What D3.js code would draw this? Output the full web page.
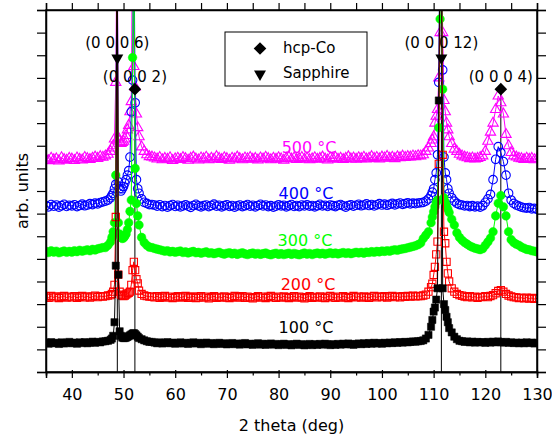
<!DOCTYPE html>
<html>
<head>
<meta charset="utf-8">
<script src="https://cdn.jsdelivr.net/npm/d3@7/dist/d3.min.js"></script>
<style>
  body { margin: 0; background: #fff; }
  svg { font-family: "DejaVu Sans", Verdana, sans-serif; }
</style>
</head>
<body>
<div id="chart"></div>
<script>
// 2 theta grid (deg), finer around the peaks
const twoTheta = [
  35, 35.5, 36, 36.5, 37, 37.5, 38, 38.5, 39, 39.5,
  40, 40.5, 41, 41.5, 42, 42.5, 43, 43.5, 44, 44.5,
  45, 45.5, 46,
  46.5, 47, 47.5, 47.75, 48, 48.25, 48.5, 48.75, 49, 49.25,
  49.5, 49.75, 50, 50.25, 50.5, 50.75, 51, 51.25, 51.5, 51.75,
  52, 52.25, 52.5, 52.75, 53, 53.5, 54, 54.5, 55,
  55.5, 56, 56.5, 57, 57.5, 58, 58.5, 59, 59.5, 60,
  60.5, 61, 61.5, 62, 62.5, 63, 63.5, 64, 64.5, 65,
  65.5, 66, 66.5, 67, 67.5, 68, 68.5, 69, 69.5, 70,
  70.5, 71, 71.5, 72, 72.5, 73, 73.5, 74, 74.5, 75,
  75.5, 76, 76.5, 77, 77.5, 78, 78.5, 79, 79.5, 80,
  80.5, 81, 81.5, 82, 82.5, 83, 83.5, 84, 84.5, 85,
  85.5, 86, 86.5, 87, 87.5, 88, 88.5, 89, 89.5, 90,
  90.5, 91, 91.5, 92, 92.5, 93, 93.5, 94, 94.5, 95,
  95.5, 96, 96.5, 97, 97.5, 98, 98.5, 99, 99.5, 100,
  100.5, 101, 101.5, 102, 102.5, 103, 103.5, 104, 104.5, 105,
  105.5, 106, 106.5, 107,
  107.5, 108, 108.5, 109, 109.5, 109.75, 110, 110.25, 110.5, 110.75,
  111, 111.25, 111.5, 111.75, 112, 112.25, 112.5, 112.75, 113, 113.5,
  114, 114.5, 115,
  115.5, 116, 116.5, 117, 117.5, 118, 118.5, 119,
  119.5, 120, 120.5, 121, 121.5, 122, 122.5, 123, 123.5, 124, 124.5, 125, 125.5, 126, 126.5,
  127, 127.5, 128, 128.5, 129, 129.5, 130
];

// intensities (arb. units, stacked), values above 16 run off the top
const int500 = [
  9.40, 9.34, 9.45, 9.38, 9.42, 9.33, 9.47, 9.39, 9.36, 9.44,
  9.41, 9.35, 9.46, 9.40, 9.37, 9.48, 9.43, 9.39, 9.45, 9.50,
  9.44, 9.52, 9.49,
  9.55, 9.62, 9.75, 9.9, 10.0, 10.3, 12.8, 20, 10.35, 10.2,
  10.1, 10.15, 10.2, 10.3, 10.45, 10.7, 10.9, 11.5, 11.95, 20,
  13.5, 12.6, 11.4, 10.8, 10.4, 9.95, 9.75, 9.6, 9.52,
  9.50, 9.46, 9.41, 9.48, 9.38, 9.44, 9.40, 9.47, 9.35, 9.42,
  9.45, 9.39, 9.48, 9.43, 9.36, 9.44, 9.50, 9.41, 9.37, 9.46,
  9.42, 9.49, 9.38, 9.45, 9.40, 9.52, 9.44, 9.39, 9.47, 9.43,
  9.36, 9.45, 9.41, 9.50, 9.43, 9.38, 9.46, 9.42, 9.48, 9.40,
  9.44, 9.37, 9.46, 9.41, 9.49, 9.43, 9.38, 9.45, 9.40, 9.47,
  9.42, 9.36, 9.44, 9.49, 9.41, 9.46, 9.39, 9.43, 9.48, 9.40,
  9.45, 9.38, 9.42, 9.47, 9.40, 9.44, 9.50, 9.41, 9.37, 9.46,
  9.43, 9.48, 9.40, 9.45, 9.39, 9.44, 9.51, 9.42, 9.46, 9.40,
  9.47, 9.43, 9.49, 9.41, 9.45, 9.52, 9.44, 9.48, 9.42, 9.50,
  9.46, 9.53, 9.45, 9.49, 9.43, 9.51, 9.47, 9.54, 9.48, 9.52,
  9.50, 9.55, 9.51, 9.56,
  9.55, 9.6, 9.75, 9.9, 10.1, 10.25, 10.4, 11.0, 11.3, 11.6,
  13.0, 15.0, 20, 15.0, 12.0, 11.5, 11.0, 10.7, 10.4, 10.1,
  9.85, 9.75, 9.62,
  9.55, 9.50, 9.47, 9.43, 9.46, 9.41, 9.44, 9.48,
  9.55, 9.75, 10.2, 10.6, 11.0, 11.6, 12.2, 11.9, 11.4, 10.5, 10.0, 9.7, 9.55, 9.5, 9.45,
  9.43, 9.39, 9.45, 9.40, 9.44, 9.38, 9.42
];
const int400 = [
  7.36, 7.30, 7.40, 7.33, 7.38, 7.29, 7.35, 7.41, 7.32, 7.37,
  7.34, 7.39, 7.31, 7.36, 7.42, 7.35, 7.38, 7.44, 7.40, 7.46,
  7.43, 7.49, 7.52,
  7.55, 7.6, 7.7, 7.8, 7.9, 8.1, 8.3, 20, 8.4, 8.1,
  8.0, 8.1, 8.2, 8.35, 8.5, 8.7, 8.9, 9.5, 11.5, 12.9,
  20, 11.9, 8.5, 8.1, 7.9, 7.65, 7.5, 7.45, 7.4,
  7.40, 7.38, 7.33, 7.39, 7.31, 7.36, 7.29, 7.35, 7.40, 7.32,
  7.37, 7.30, 7.34, 7.39, 7.33, 7.28, 7.36, 7.41, 7.34, 7.30,
  7.35, 7.38, 7.31, 7.36, 7.42, 7.33, 7.37, 7.30, 7.35, 7.39,
  7.32, 7.36, 7.29, 7.34, 7.38, 7.31, 7.35, 7.40, 7.33, 7.37,
  7.30, 7.36, 7.41, 7.34, 7.38, 7.31, 7.35, 7.29, 7.33, 7.39,
  7.34, 7.37, 7.30, 7.35, 7.40, 7.32, 7.36, 7.31, 7.38, 7.34,
  7.39, 7.33, 7.36, 7.30, 7.35, 7.41, 7.34, 7.37, 7.32, 7.38,
  7.35, 7.31, 7.37, 7.40, 7.34, 7.29, 7.36, 7.39, 7.33, 7.37,
  7.41, 7.35, 7.38, 7.43, 7.36, 7.40, 7.34, 7.39, 7.44, 7.38,
  7.42, 7.37, 7.41, 7.45, 7.39, 7.43, 7.47, 7.41, 7.44, 7.48,
  7.43, 7.46, 7.44, 7.47,
  7.48, 7.5, 7.55, 7.65, 7.8, 7.95, 8.1, 8.5, 8.8, 9.6,
  12.8, 20, 20, 13.35, 9.5, 8.8, 8.5, 8.1, 7.9, 7.7,
  7.55, 7.45, 7.4,
  7.38, 7.34, 7.36, 7.31, 7.35, 7.30, 7.33, 7.29,
  7.35, 7.5, 7.65, 7.85, 8.5, 9.4, 9.96, 9.7, 9.3, 8.7, 7.9, 7.6, 7.45, 7.38, 7.33,
  7.29, 7.26, 7.24, 7.27, 7.21, 7.23, 7.19
];
const int300 = [
  5.33, 5.28, 5.36, 5.30, 5.34, 5.27, 5.31, 5.35, 5.29, 5.33,
  5.30, 5.36, 5.32, 5.38, 5.34, 5.37, 5.40, 5.36, 5.42, 5.39,
  5.44, 5.47, 5.50,
  5.5, 5.6, 5.75, 5.95, 6.2, 6.6, 8.7, 20, 6.6, 6.1,
  5.95, 5.9, 5.92, 6.0, 6.1, 6.3, 6.6, 7.1, 7.6, 13.9,
  20, 9.0, 7.45, 6.9, 6.5, 5.95, 5.72, 5.6, 5.52,
  5.50, 5.46, 5.43, 5.40, 5.37, 5.34, 5.36, 5.31, 5.33, 5.29,
  5.32, 5.35, 5.28, 5.31, 5.26, 5.30, 5.33, 5.27, 5.29, 5.25,
  5.28, 5.31, 5.25, 5.27, 5.23, 5.26, 5.29, 5.24, 5.21, 5.25,
  5.27, 5.22, 5.25, 5.20, 5.24, 5.27, 5.22, 5.19, 5.23, 5.26,
  5.21, 5.24, 5.20, 5.23, 5.26, 5.21, 5.18, 5.22, 5.25, 5.20,
  5.23, 5.19, 5.22, 5.25, 5.20, 5.24, 5.21, 5.18, 5.22, 5.26,
  5.21, 5.24, 5.19, 5.23, 5.26, 5.22, 5.25, 5.21, 5.24, 5.27,
  5.23, 5.26, 5.22, 5.25, 5.28, 5.24, 5.27, 5.23, 5.26, 5.29,
  5.26, 5.29, 5.25, 5.30, 5.28, 5.32, 5.29, 5.33, 5.31, 5.35,
  5.33, 5.36, 5.34, 5.38, 5.40, 5.38, 5.42, 5.44, 5.46, 5.49,
  5.52, 5.55, 5.58, 5.63,
  5.7, 5.9, 6.05, 6.2, 6.6, 6.85, 7.08, 7.3, 7.5, 7.6,
  10.8, 15.6, 20, 12.5, 7.7, 7.5, 7.35, 7.2, 7.05, 6.75,
  6.5, 6.15, 5.95,
  5.82, 5.72, 5.65, 5.57, 5.52, 5.47, 5.44, 5.41,
  5.45, 5.6, 5.75, 5.92, 6.2, 6.9, 7.46, 7.8, 7.3, 6.9, 6.2, 5.85, 5.72, 5.65, 5.6,
  5.52, 5.47, 5.42, 5.40, 5.36, 5.34, 5.31
];
const int200 = [
  3.33, 3.28, 3.36, 3.30, 3.34, 3.27, 3.32, 3.36, 3.29, 3.33,
  3.30, 3.35, 3.28, 3.32, 3.36, 3.30, 3.34, 3.29, 3.33, 3.37,
  3.31, 3.35, 3.33,
  3.35, 3.38, 3.4, 3.45, 3.55, 3.85, 6.85, 20, 4.3, 3.55,
  3.42, 3.38, 3.36, 3.38, 3.42, 3.46, 3.5, 3.55, 3.85, 4.5,
  4.87, 4.5, 4.1, 3.92, 3.6, 3.45, 3.38, 3.35, 3.33,
  3.33, 3.30, 3.35, 3.28, 3.32, 3.36, 3.29, 3.33, 3.27, 3.31,
  3.35, 3.29, 3.32, 3.36, 3.28, 3.31, 3.34, 3.27, 3.30, 3.35,
  3.29, 3.33, 3.26, 3.31, 3.35, 3.28, 3.32, 3.29, 3.34, 3.30,
  3.27, 3.32, 3.36, 3.29, 3.31, 3.35, 3.28, 3.33, 3.30, 3.26,
  3.31, 3.35, 3.29, 3.33, 3.27, 3.32, 3.36, 3.30, 3.28, 3.33,
  3.29, 3.34, 3.31, 3.27, 3.32, 3.35, 3.29, 3.33, 3.30, 3.26,
  3.31, 3.35, 3.28, 3.32, 3.29, 3.34, 3.30, 3.27, 3.33, 3.36,
  3.30, 3.28, 3.33, 3.29, 3.35, 3.31, 3.27, 3.32, 3.36, 3.30,
  3.33, 3.29, 3.34, 3.31, 3.28, 3.33, 3.36, 3.30, 3.34, 3.31,
  3.35, 3.29, 3.33, 3.36, 3.31, 3.34, 3.30, 3.35, 3.32, 3.36,
  3.33, 3.37, 3.34, 3.36,
  3.35, 3.38, 3.42, 3.55, 3.75, 3.9, 4.29, 4.65, 5.2, 5.76,
  9.2, 20, 20, 9.6, 6.2, 5.69, 4.87, 4.36, 4.0, 3.7,
  3.55, 3.45, 3.4,
  3.37, 3.33, 3.31, 3.35, 3.30, 3.33, 3.28, 3.31,
  3.32, 3.35, 3.31, 3.36, 3.4, 3.48, 3.58, 3.62, 3.55, 3.45, 3.38, 3.34, 3.31, 3.3, 3.27,
  3.28, 3.25, 3.29, 3.24, 3.27, 3.23, 3.26
];
const int100 = [
  1.30, 1.25, 1.32, 1.27, 1.29, 1.24, 1.31, 1.26, 1.29, 1.33,
  1.27, 1.30, 1.25, 1.31, 1.28, 1.32, 1.27, 1.30, 1.34, 1.29,
  1.33, 1.31, 1.35,
  1.36, 1.38, 1.42, 1.48, 1.6, 2.2, 4.7, 20, 4.3, 1.8,
  1.6, 1.52, 1.5, 1.5, 1.52, 1.55, 1.58, 1.62, 1.66, 1.7,
  1.72, 1.68, 1.62, 1.56, 1.5, 1.45, 1.4, 1.36, 1.33,
  1.33, 1.30, 1.27, 1.31, 1.26, 1.29, 1.32, 1.27, 1.30, 1.25,
  1.28, 1.31, 1.26, 1.29, 1.24, 1.28, 1.31, 1.26, 1.29, 1.23,
  1.27, 1.30, 1.25, 1.28, 1.23, 1.26, 1.29, 1.24, 1.27, 1.22,
  1.25, 1.28, 1.23, 1.26, 1.21, 1.25, 1.28, 1.22, 1.25, 1.20,
  1.24, 1.27, 1.21, 1.25, 1.20, 1.23, 1.26, 1.21, 1.24, 1.19,
  1.22, 1.25, 1.20, 1.23, 1.18, 1.22, 1.25, 1.20, 1.23, 1.18,
  1.21, 1.24, 1.19, 1.23, 1.20, 1.24, 1.21, 1.25, 1.22, 1.19,
  1.23, 1.20, 1.24, 1.21, 1.25, 1.22, 1.26, 1.23, 1.20, 1.24,
  1.26, 1.23, 1.27, 1.24, 1.28, 1.25, 1.29, 1.26, 1.28, 1.25,
  1.29, 1.27, 1.30, 1.28, 1.31, 1.29, 1.32, 1.30, 1.33, 1.31,
  1.33, 1.35, 1.34, 1.36,
  1.37, 1.4, 1.48, 1.64, 2.0, 2.3, 2.67, 2.85, 3.2, 3.7,
  12, 20, 20, 3.7, 3.0, 2.74, 2.44, 2.2, 1.94, 1.75,
  1.56, 1.45, 1.38,
  1.36, 1.33, 1.35, 1.31, 1.34, 1.30, 1.33, 1.31,
  1.32, 1.29, 1.33, 1.30, 1.34, 1.31, 1.35, 1.32, 1.30, 1.33, 1.29, 1.31, 1.28, 1.30, 1.27,
  1.30, 1.27, 1.31, 1.28, 1.30, 1.26, 1.29
];

const seriesNames = ["500 °C", "400 °C", "300 °C", "200 °C", "100 °C"];
const seriesValues = [int500, int400, int300, int200, int100];

// reference peaks
const sapphirePeaks = [48.8, 111.5];
const sapphireHkl = ["(0 0 0 6)", "(0 0 0 12)"];
const cobaltPeaks = [52.2, 123.0];
const cobaltHkl = ["(0 0 0 2)", "(0 0 0 4)"];
const legendNames = ["hcp-Co", "Sapphire"];

const xMajorTicks = [40, 50, 60, 70, 80, 90, 100, 110, 120, 130];

// ---- layout / styles ----
const W = 552, H = 439;
const margin = { left: 46, top: 10, right: 15, bottom: 67 };
const width = W - margin.left - margin.right;
const height = H - margin.top - margin.bottom;

const colors = ["#ff00ff", "#0000ff", "#00ff00", "#ff0000", "#000000"];
const symbolTypes = [d3.symbolTriangle, d3.symbolCircle, d3.symbolCircle, d3.symbolSquare, d3.symbolSquare];
const symbolSizes = [46, 58, 58, 52, 52];
const filled = [false, false, true, false, true];
const labelX = [85.9, 85.3, 85.1, 85.7, 85.3];
const labelY = [9.94, 7.91, 5.83, 3.89, 1.99];
const sapphireLevel = 13.92, cobaltLevel = 12.5;

const svg = d3.select("#chart").append("svg")
  .attr("width", W).attr("height", H);

const g = svg.append("g")
  .attr("transform", "translate(" + margin.left + "," + margin.top + ")");

const x = d3.scaleLinear().domain([35, 130]).range([0, width]);
const y = d3.scaleLinear().domain([0, 16]).range([height, 0]);

g.append("clipPath").attr("id", "plotclip")
  .append("rect").attr("width", width).attr("height", height);

const plot = g.append("g").attr("clip-path", "url(#plotclip)");

// drop lines for reference peaks
sapphirePeaks.forEach(p => {
  plot.append("line")
    .attr("x1", x(p)).attr("x2", x(p))
    .attr("y1", y(sapphireLevel)).attr("y2", height)
    .attr("stroke", "#000").attr("stroke-width", 1);
});
cobaltPeaks.forEach(p => {
  plot.append("line")
    .attr("x1", x(p)).attr("x2", x(p))
    .attr("y1", y(cobaltLevel)).attr("y2", height)
    .attr("stroke", "#000").attr("stroke-width", 1);
});

// series
const line = d3.line().x(d => x(d[0])).y(d => y(d[1]));
seriesValues.forEach((vals, i) => {
  const pts = twoTheta.map((t, k) => [t, vals[k]]);
  plot.append("path")
    .datum(pts)
    .attr("fill", "none")
    .attr("stroke", colors[i])
    .attr("stroke-width", 1)
    .attr("d", line);
  const sym = d3.symbol().type(symbolTypes[i]).size(symbolSizes[i]);
  plot.append("g").selectAll("path")
    .data(pts)
    .enter()
    .append("path")
    .attr("transform", d => "translate(" + x(d[0]) + "," + y(d[1]) + ")")
    .attr("d", sym)
    .attr("fill", filled[i] ? colors[i] : "none")
    .attr("stroke", colors[i])
    .attr("stroke-width", filled[i] ? 0.5 : 1.1);
});

// temperature labels
seriesNames.forEach((name, i) => {
  g.append("text")
    .attr("x", x(labelX[i])).attr("y", y(labelY[i]))
    .attr("dy", "0.35em")
    .attr("text-anchor", "middle")
    .attr("font-size", 16)
    .attr("fill", colors[i])
    .text(name);
});

// reference markers + hkl labels
const diamond = d3.symbol().type(d3.symbolSquare).size(80);
const tri = d3.symbol().type(d3.symbolTriangle).size(62);
sapphirePeaks.forEach((p, i) => {
  g.append("path")
    .attr("transform", "translate(" + x(p) + "," + (y(sapphireLevel) + 1) + ") rotate(180)")
    .attr("d", tri).attr("fill", "#000");
  g.append("text")
    .attr("x", x(p)).attr("y", y(sapphireLevel) - 14)
    .attr("dy", "0.35em")
    .attr("text-anchor", "middle").attr("font-size", 15)
    .text(sapphireHkl[i]);
});
cobaltPeaks.forEach((p, i) => {
  g.append("path")
    .attr("transform", "translate(" + x(p) + "," + y(cobaltLevel) + ") rotate(45)")
    .attr("d", diamond).attr("fill", "#000");
  g.append("text")
    .attr("x", x(p)).attr("y", y(cobaltLevel) - 12)
    .attr("dy", "0.35em")
    .attr("text-anchor", "middle").attr("font-size", 15)
    .text(cobaltHkl[i]);
});

// legend
const leg = g.append("g").attr("transform", "translate(179,22)");
leg.append("rect")
  .attr("width", 142).attr("height", 54)
  .attr("fill", "#fff").attr("stroke", "#000").attr("stroke-width", 1);
legendNames.forEach((name, i) => {
  leg.append("path")
    .attr("transform", i === 0
      ? "translate(35,16.5) rotate(45)"
      : "translate(35,42) rotate(180)")
    .attr("d", i === 0 ? diamond : tri)
    .attr("fill", "#000");
  leg.append("text")
    .attr("x", 58).attr("y", 16 + i * 25)
    .attr("dy", "0.35em")
    .attr("font-size", 15)
    .text(name);
});

// axes
const xBottom = g.append("g")
  .attr("transform", "translate(0," + height + ")")
  .call(d3.axisBottom(x).tickValues(xMajorTicks).tickSize(6).tickPadding(11).tickFormat(d3.format("d")));
xBottom.selectAll("text").attr("font-size", 16).attr("fill", "#000").attr("font-family", "DejaVu Sans, sans-serif");
xBottom.selectAll(".tick line").attr("y1", -2);

g.append("g")
  .attr("transform", "translate(0," + height + ")")
  .call(d3.axisBottom(x).tickValues(d3.range(35, 131, 10)).tickSize(3.5).tickFormat(""));

g.append("g")
  .call(d3.axisTop(x).tickValues(d3.range(35, 131, 5)).tickSize(7).tickFormat(""));

g.append("g")
  .call(d3.axisLeft(y).tickValues(d3.range(0, 17, 1)).tickSize(9).tickFormat(""));

g.append("g")
  .attr("transform", "translate(" + width + ",0)")
  .call(d3.axisRight(y).tickValues(d3.range(0, 17, 1)).tickSize(9).tickFormat(""));

g.selectAll(".domain").attr("stroke", "#000").attr("stroke-width", 1.5);
g.selectAll(".tick line").attr("stroke", "#000").attr("stroke-width", 1.2);

g.append("rect")
  .attr("width", width).attr("height", height)
  .attr("fill", "none").attr("stroke", "#000").attr("stroke-width", 1.5);

// axis titles
svg.append("text")
  .attr("x", margin.left + width / 2).attr("y", 425)
  .attr("dy", "0.35em")
  .attr("text-anchor", "middle").attr("font-size", 16)
  .text("2 theta (deg)");

svg.append("text")
  .attr("transform", "translate(22," + (margin.top + height / 2) + ") rotate(-90)")
  .attr("dy", "0.35em")
  .attr("text-anchor", "middle").attr("font-size", 16)
  .text("arb. units");
</script>
</body>
</html>
